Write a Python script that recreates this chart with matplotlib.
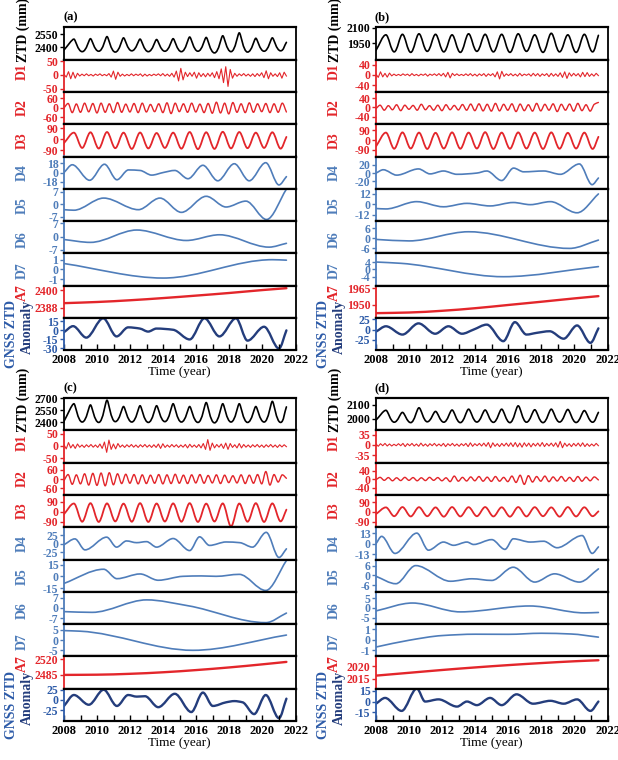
import numpy as np
import matplotlib.pyplot as plt
from matplotlib.path import Path
from matplotlib.patches import PathPatch
from matplotlib.ticker import MultipleLocator

plt.rcParams['font.family'] = ['Liberation Serif', 'DejaVu Serif']
plt.rcParams['font.weight'] = 'bold'
plt.rcParams['axes.unicode_minus'] = False

# ---------------- data ----------------
# times of the annual extrema (start, peak, trough, ..., end)
t_annual = [2008.0, 2008.6, 2009.1, 2009.6, 2010.1, 2010.6, 2011.1, 2011.6, 2012.1,
            2012.6, 2013.1, 2013.6, 2014.1, 2014.6, 2015.1, 2015.6, 2016.1, 2016.6,
            2017.1, 2017.6, 2018.1, 2018.6, 2019.1, 2019.6, 2020.1, 2020.6, 2021.1, 2021.45]
t_a7 = [2008, 2010, 2012, 2014, 2016, 2018, 2020, 2021.45]

# ---- panel (a)
ztd_a = [2365, 2495, 2345, 2500, 2350, 2525, 2340, 2510, 2355, 2495, 2345, 2490, 2350, 2500,
         2345, 2520, 2350, 2515, 2330, 2535, 2345, 2570, 2340, 2505, 2350, 2510, 2355, 2456]
d1_a = [2, -8, 12, -14, 10, -12, 6, -4, 3, -3, 4, -3, 2, -4, 3, -2, 4, -3, 2, -3,
        5, -8, 14, -16, 10, -5, 3, -4, 2, -3, 4, -3, 3, -2, 4, -5, 3, -4, 2, -3,
        3, -2, 4, -3, 5, -4, 3, -5, 6, -8, 14, -22, 24, -18, 10, -6, 8, -5, 10, -12,
        8, -6, 5, -7, 6, -5, 8, -10, 12, -14, 22, -28, 30, -42, 20, -12, 6, -5, 4, -3,
        5, -4, 3, -5, 4, -6, 5, -4, 8, -10, 15, -14, 8, -5, 4, -6, 8, -12, 10, -4]
d2_a = [0, 28, -30, 25, -28, 30, -25, 28, -32, 30, -28, 26, -30, 34, -28, 24, -26, 28, -30, 30,
        -26, 22, -24, 26, -30, 32, -36, 30, -24, 26, -28, 30, -26, 24, -30, 28, -34, 36, -32, 30,
        -38, 34, -28, 26, -30, 32, -28, 26, -24, 28, -30, 26, -28, 30, -26]
d3_a = [-30, 55, -70, 58, -75, 60, -72, 55, -78, 56, -74, 52, -70, 55, -76, 60, -80, 58,
        -78, 62, -74, 60, -72, 55, -70, 58, -76, 20]
d4_t_a = [2008.0, 2008.5, 2009.55, 2010.45, 2011.2, 2011.9, 2012.6, 2013.3, 2014.0, 2014.7,
          2015.5, 2016.4, 2017.3, 2018.3, 2019.2, 2020.2, 2021.0, 2021.45]
d4_a = [0, 15, -15, 16, -14, 5, 4, -5, 0, 4, -12, 14, -16, 17, -16, 19, -24, -8]
d5_t_a = [2008.0, 2008.6, 2010.4, 2012.5, 2013.8, 2015.1, 2016.6, 2017.8, 2019.0, 2020.25, 2021.45]
d5_a = [-3, -3.3, 3.5, -3, 3.5, -4.5, 4.5, -1.5, 1.8, -8.5, 8.5]
d6_t_a = [2008.0, 2009.6, 2012.4, 2015.4, 2017.4, 2020.4, 2021.45]
d6_a = [-1.5, -3, 3.5, -2, 1, -5.5, -3.5]
d7_t_a = [2008.0, 2014.0, 2020.6, 2021.45]
d7_a = [0.6, -0.9, 1.0, 0.95]
a7_a = [2391.0, 2391.8, 2393.0, 2394.5, 2396.2, 2398.0, 2400.0, 2401.3]
anom_t_a = [2008.0, 2008.55, 2009.35, 2010.37, 2011.18, 2011.88, 2012.59, 2013.09, 2013.59,
            2014.6, 2015.6, 2016.5, 2017.4, 2018.4, 2019.1, 2020.1, 2021.0, 2021.45]
anom_a = [-3, 7, -12, 20, -10, 5, 3, -2, 3, 1, -15, 20, -10, 20, -17, 6, -30, 0]

# ---- panel (b)
ztd_b = [1880, 2030, 1865, 2035, 1860, 2040, 1870, 2035, 1865, 2030, 1860, 2040, 1870, 2035,
         1865, 2035, 1860, 2040, 1870, 2030, 1860, 2045, 1865, 2030, 1860, 2035, 1865, 2025]
d1_b = [3, -10, 12, -8, 6, -9, 7, -4, 3, -3, 2, -3, 4, -2, 3, -4, 5, -3, 2, -4,
        3, -2, 4, -5, 3, -2, 4, -3, 5, -4, 6, -8, 10, -12, 6, -3, 4, -3, 2, -3,
        4, -3, 5, -4, 3, -5, 4, -3, 5, -6, 4, -3, 5, -8, 12, -16, 14, -6, 4, -3,
        5, -4, 3, -5, 6, -4, 3, -2, 4, -5, 6, -4, 5, -6, 4, -3, 5, -7, 6, -5,
        4, -6, 8, -10, 12, -14, 8, -5, 6, -4, 5, -8, 10, -7, 9, -6, 4, -5, 6, -3]
d2_b = [-5, 10, -12, 8, -10, 12, -14, 10, -8, 9, -12, 14, -10, 8, -12, 10, -14, 12, -10, 9,
        -11, 13, -12, 15, -14, 16, -15, 14, -16, 18, -15, 14, -12, 16, -18, 15, -14, 12, -16, 18,
        -15, 14, -12, 16, -18, 14, -12, 15, -16, 18, -14, 12, -16, 14, 22]
d3_b = [-60, 70, -82, 72, -80, 70, -84, 68, -80, 72, -82, 70, -80, 74, -84, 70, -82, 72,
        -80, 70, -84, 72, -82, 68, -80, 70, -84, 30]
d4_t_b = [2008.0, 2008.44, 2009.25, 2010.57, 2011.27, 2012.08, 2012.89, 2014.1, 2014.7, 2015.6,
          2016.32, 2016.93, 2018.14, 2019.15, 2020.3, 2021.07, 2021.45]
d4_b = [0, 8, -5, 10, -2, 5, -3, 0, 5, -18, 12, 3, 5, -3, 22, -28, -12]
d5_t_b = [2008.0, 2008.6, 2010.46, 2012.08, 2013.5, 2014.9, 2016.3, 2017.33, 2018.55, 2020.16, 2021.45]
d5_b = [-5, -5.5, 3, -3, 1, -2, 2, -0.5, 3, -10, 12]
d6_t_b = [2008.0, 2010.0, 2013.6, 2019.7, 2021.45]
d6_b = [-0.6, -1.5, 4, -6, -1]
d7_t_b = [2008.0, 2009.5, 2015.7, 2021.45]
d7_b = [4.0, 3.3, -4.0, 1.5]
a7_b = [1942.0, 1942.6, 1944.2, 1946.6, 1949.6, 1952.6, 1955.7, 1957.8]
anom_t_b = [2008.0, 2008.6, 2009.6, 2010.57, 2011.58, 2012.38, 2013.2, 2013.9, 2014.7, 2015.7,
            2016.4, 2017.1, 2017.7, 2018.5, 2019.35, 2020.16, 2020.97, 2021.45]
anom_b = [-5, 8, -12, 15, -10, 8, -10, 0, 12, -28, 18, -12, -8, -4, -22, 10, -32, 3]

# ---- panel (c)
ztd_c = [2410, 2630, 2400, 2615, 2395, 2675, 2405, 2595, 2400, 2605, 2395, 2605, 2405, 2630,
         2400, 2595, 2395, 2645, 2390, 2630, 2400, 2630, 2395, 2595, 2400, 2660, 2395, 2590]
d1_c = [5, -12, 14, -8, 6, -10, 8, -5, 4, -6, 5, -4, 6, -5, 4, -6, 8, -10, 16, -26,
        24, -14, 8, -12, 10, -5, 4, -6, 5, -4, 6, -5, 4, -6, 5, -4, 6, -5, 4, -6,
        5, -6, 8, -10, 9, -6, 4, -5, 6, -4, 5, -6, 4, -5, 6, -8, 7, -5, 4, -6,
        6, -8, 10, -14, 26, -18, 12, -8, 6, -5, 8, -10, 12, -14, 10, -6, 5, -8, 10, -8,
        6, -5, 4, -6, 5, -4, 6, -5, 4, -6, 5, -4, 6, -5, 4, -6, 5, -4, 5, -3]
d2_c = [-10, 30, -35, 28, -32, 35, -40, 38, -42, 40, -45, 42, -38, 35, -30, 32, -28, 30, -32, 28,
        -30, 26, -28, 30, -32, 28, -30, 32, -28, 26, -30, 28, -26, 30, -28, 24, -26, 28, -30, 26,
        -24, 22, -26, 28, -30, 26, -28, 30, -32, 50, -40, 30, -20, 28, 5]
d3_c = [-20, 75, -88, 78, -90, 76, -85, 74, -88, 78, -90, 75, -86, 76, -88, 78, -90, 74,
        -86, 76, -130, 75, -88, 78, -90, 76, -85, 20]
d4_t_c = [2008.0, 2008.66, 2009.27, 2010.58, 2011.18, 2011.78, 2012.39, 2012.99, 2013.6, 2014.6,
          2015.6, 2016.2, 2016.8, 2017.8, 2018.63, 2019.4, 2020.23, 2021.0, 2021.45]
d4_c = [-3, 14, -18, 19, -10, 8, 3, 6, -10, 15, -20, 20, -5, 5, 3, -10, 33, -40, -15]
d5_t_c = [2008.0, 2010.4, 2011.2, 2012.6, 2013.7, 2015.2, 2016.3, 2017.2, 2018.6, 2020.2, 2021.45]
d5_c = [-9, 9, -3, 3, -5, 0, 0.5, 0, 2.5, -18, 20]
d6_t_c = [2008.0, 2009.7, 2013.0, 2015.5, 2020.2, 2021.45]
d6_c = [-2.5, -3, 5.5, 1.5, -10, -3.5]
d7_t_c = [2008.0, 2009.0, 2015.8, 2021.45]
d7_c = [4.7, 4.4, -5, 2.5]
a7_c = [2485, 2485.5, 2487.5, 2491, 2496, 2502, 2509, 2514.5]
anom_t_c = [2008.0, 2008.6, 2009.5, 2010.4, 2011.2, 2011.88, 2012.4, 2012.9, 2013.7, 2014.7,
            2015.7, 2016.4, 2017.0, 2017.8, 2018.3, 2018.8, 2019.5, 2020.2, 2021.0, 2021.45]
anom_c = [-15, 12, -12, 25, -15, 12, 8, 9, -18, 15, -30, 18, -15, -6, -3, -6, -35, 12, -45, 3]

# ---- panel (d)
ztd_d = [1990, 2060, 1975, 2045, 1972, 2078, 1978, 2052, 1975, 2062, 1972, 2068, 1976, 2062,
         1974, 2068, 1972, 2092, 1975, 2064, 1972, 2068, 1976, 2066, 1973, 2058, 1975, 2045]
d1_d = [3, -5, 4, -3, 5, -4, 3, -4, 2, -3, 4, -3, 5, -6, 4, -3, 5, -4, 3, -5,
        6, -4, 3, -5, 4, -3, 5, -4, 3, -4, 5, -6, 4, -3, 5, -4, 3, -5, 4, -3,
        5, -6, 7, -5, 4, -3, 5, -4, 6, -5, 8, -10, 7, -5, 4, -6, 5, -4, 6, -5,
        7, -6, 8, -7, 6, -8, 7, -5, 6, -7, 5, -4, 6, -5, 8, -6, 5, -4, 6, -5,
        7, -8, 12, -10, 6, -5, 4, -6, 5, -4, 6, -5, 7, -6, 4, -5, 3, -4, 5, -3]
d2_d = [-3, 8, -6, 7, -8, 6, -7, 8, -6, 7, -8, 6, -7, 8, -6, 7, -8, 6, -12, 14,
        -10, 8, -9, 10, -8, 12, -10, 9, -11, 12, -10, 8, -12, 14, -16, 18, -25, 16, -14, 12,
        -10, 14, -12, 10, -9, 12, -10, 8, -11, 12, -10, 9, -8, 10, -4]
d3_d = [-20, 42, -40, 45, -42, 44, -40, 42, -44, 45, -42, 44, -40, 45, -42, 43, -44, 45,
        -42, 44, -40, 42, -44, 45, -42, 43, -40, 5]
d4_t_d = [2008.0, 2008.34, 2009.15, 2010.47, 2011.17, 2012.08, 2012.69, 2013.5, 2013.9, 2015.0,
          2015.8, 2016.3, 2017.33, 2018.14, 2018.95, 2020.47, 2021.07, 2021.45]
d4_d = [0, 9, -12, 13, -8, 2, -2, 2, -1, 5, -7, 6, 2, 3, -5, 10, -12, -4]
d5_t_d = [2008.0, 2009.2, 2010.4, 2012.5, 2013.8, 2015.0, 2016.3, 2017.6, 2018.8, 2020.3, 2021.45]
d5_d = [-0.5, -5, 6, -3.5, -2, -3, 5, -4, 1, -4, 4]
d6_t_d = [2008.0, 2010.2, 2013.1, 2017.3, 2020.6, 2021.45]
d6_d = [-1.5, 2.5, -2, 1, -2.5, -2.3]
d7_t_d = [2008.0, 2010.0, 2012.0, 2014.0, 2016.0, 2018.0, 2019.8, 2021.45]
d7_d = [-0.7, -0.05, 0.4, 0.53, 0.52, 0.62, 0.55, 0.25]
a7_d = [2016.3, 2017.4, 2018.5, 2019.5, 2020.4, 2021.2, 2021.9, 2022.3]
anom_t_d = [2008.0, 2008.55, 2009.55, 2010.47, 2010.97, 2011.78, 2012.9, 2013.5, 2014.1, 2014.9,
            2015.6, 2016.5, 2017.5, 2018.55, 2019.35, 2020.16, 2020.97, 2021.45]
anom_d = [-3, 5, -13, 18, 0, 3, -7, 0, -5, 5, -5, 10, -3, 1, -3, 3, -13, 0]

# axis ranges / ticks per row: ZTD, D1..D7, A7, anomaly
ylims_a = [(2250, 2636), (-62, 56), (-103, 101), (-140, 124), (-31.5, 31), (-9.4, 8.7),
           (-8.8, 8.2), (-1.69, 1.65), (2380.8, 2403), (-33, 20.5)]
yticks_a = [[2400, 2550], [-50, 0, 50], [-60, 0, 60], [-90, 0, 90], [-18, 0, 18], [-7, 0, 7],
            [-7, 0, 7], [-1, 0, 1], [2388, 2400], [-30, -15, 0, 15]]
ylims_b = [(1790, 2103), (-67, 60), (-73, 68), (-155, 149), (-38, 40), (-19.7, 18),
           (-9, 10.4), (-8.9, 8.7), (1937.5, 1967.5), (-50, 28)]
yticks_b = [[1950, 2100], [-40, 0, 40], [-40, 0, 40], [-90, 0, 90], [-20, 0, 20], [-12, 0, 12],
            [-6, 0, 6], [-4, 0, 4], [1950, 1965], [-25, 0, 25]]
ylims_c = [(2296, 2702), (-68, 64), (-105, 109), (-137, 152), (-46, 48), (-19.7, 21.4),
           (-11, 11), (-8, 7.9), (2453.7, 2527), (-52, 27.5)]
yticks_c = [[2400, 2550, 2700], [-50, 0, 50], [-60, 0, 60], [-90, 0, 90], [-25, 0, 25],
            [-15, 0, 15], [-7, 0, 7], [-5, 0, 5], [2485, 2520], [-25, 0, 25]]
ylims_d = [(1917, 2148), (-61, 50), (-74, 77), (-142, 158), (-19.5, 20.3), (-9.9, 9.7),
           (-8.2, 8.2), (-1.6, 1.5), (2011.2, 2023.8), (-27, 17.8)]
yticks_d = [[2000, 2100], [-35, 0, 35], [-40, 0, 40], [-90, 0, 90], [-13, 0, 13], [-6, 0, 6],
            [-5, 0, 5], [-1, 0, 1], [2015, 2020], [-15, 0, 15]]

# ---------------- style ----------------
RED = '#e3262b'
BLUE = '#4f7dba'
NAVY = '#243d7c'
GBLUE = '#2d5ba8'
row_labels = ['ZTD (mm)', 'D1', 'D2', 'D3', 'D4', 'D5', 'D6', 'D7', 'A7', '']
label_y = [0.93, 0.62, 0.5, 0.5, 0.5, 0.47, 0.42, 0.47, 0.78, 0.5]
axis_colors = ['black', RED, RED, RED, BLUE, BLUE, BLUE, BLUE, RED, GBLUE]
line_colors = ['black', RED, RED, RED, BLUE, BLUE, BLUE, BLUE, RED, NAVY]
line_widths = [1.2, 0.8, 1.0, 1.3, 1.2, 1.2, 1.2, 1.2, 1.7, 1.7]

W, H = 618, 760
ROW_H = 32.3
COL_W = 231.5


def smooth_line(ax, t, v, color, lw, f_max=1.0, f_min=1.0):
    # monotone cubic through the read points, drawn as bezier segments;
    # f_max / f_min shorten or lengthen the handles at peaks / troughs
    t = np.asarray(t, float)
    v = np.asarray(v, float)
    h = np.diff(t)
    d = np.diff(v) / h
    m = np.zeros_like(v)
    f = np.ones_like(v)
    for k in range(1, len(v) - 1):
        if d[k - 1] * d[k] > 0:
            w1 = 2 * h[k] + h[k - 1]
            w2 = h[k] + 2 * h[k - 1]
            m[k] = (w1 + w2) / (w1 / d[k - 1] + w2 / d[k])
        elif d[k - 1] > 0:
            f[k] = f_max
        else:
            f[k] = f_min
    m[0] = d[0]
    m[-1] = d[-1]
    verts = [(t[0], v[0])]
    for k in range(len(h)):
        a = f[k] * h[k] / 3
        b = f[k + 1] * h[k] / 3
        verts += [(t[k] + a, v[k] + m[k] * a),
                  (t[k + 1] - b, v[k + 1] - m[k + 1] * b),
                  (t[k + 1], v[k + 1])]
    codes = [Path.MOVETO] + [Path.CURVE4] * (3 * len(h))
    ax.add_patch(PathPatch(Path(verts, codes), fill=False, edgecolor=color, lw=lw,
                           joinstyle='round', capstyle='round'))


fig = plt.figure(figsize=(6.18, 7.6), dpi=100)


def draw_panel(letter, x0, ytop, series, ylims, yticks, peak_f):
    for i in range(10):
        ax = fig.add_axes([x0 / W, 1 - (ytop + (i + 1) * ROW_H) / H, COL_W / W, ROW_H / H])
        t, v = series[i]
        if i == 1:
            ax.plot(np.linspace(2008.0, 2021.45, len(v)), v, color=line_colors[i],
                    lw=line_widths[i])
        elif i == 0:
            smooth_line(ax, t, v, line_colors[i], line_widths[i], f_max=peak_f,
                        f_min=2.2 - peak_f)
        else:
            smooth_line(ax, t, v, line_colors[i], line_widths[i])
        ax.set_xlim(2008, 2022)
        ax.set_ylim(*ylims[i])
        ax.set_yticks(yticks[i])
        ax.tick_params(axis='y', direction='out', length=3, width=1,
                       colors=axis_colors[i], labelsize=8.5, pad=1)
        for s in ['top', 'bottom']:
            ax.spines[s].set_linewidth(1.6)
        ax.spines['right'].set_linewidth(1.3)
        ax.spines['left'].set_linewidth(1.3)
        ax.spines['left'].set_color(axis_colors[i])
        if i < 9:
            ax.tick_params(axis='x', bottom=False, labelbottom=False)
            ax.text(-0.178, label_y[i], row_labels[i], transform=ax.transAxes, rotation=90,
                    ha='center', va='center', color=axis_colors[i] if i else 'black',
                    fontsize=10)
        else:
            ax.xaxis.set_major_locator(MultipleLocator(2))
            ax.xaxis.set_minor_locator(MultipleLocator(1))
            ax.tick_params(axis='x', which='both', direction='in', length=4, width=1,
                           labelsize=9, pad=3)
            ax.set_xlabel('Time (year)', fontsize=9.5, labelpad=0)
            ax.text(-0.225, 0.5, 'GNSS ZTD', transform=ax.transAxes, rotation=90,
                    ha='center', va='center', color=GBLUE, fontsize=10)
            ax.text(-0.16, 0.72, 'Anomaly', transform=ax.transAxes, rotation=90,
                    ha='center', va='center', color=NAVY, fontsize=10)
    fig.text((x0 - 1) / W, 1 - (ytop - 10) / H, '(' + letter + ')', ha='left',
             va='center', fontsize=9)


panels = [
    ('a', 64, 27.3, [(t_annual, ztd_a), (None, d1_a), (None, d2_a), (t_annual, d3_a),
                     (d4_t_a, d4_a), (d5_t_a, d5_a), (d6_t_a, d6_a), (d7_t_a, d7_a),
                     (t_a7, a7_a), (anom_t_a, anom_a)], ylims_a, yticks_a, 0.6),
    ('b', 376, 27.3, [(t_annual, ztd_b), (None, d1_b), (None, d2_b), (t_annual, d3_b),
                      (d4_t_b, d4_b), (d5_t_b, d5_b), (d6_t_b, d6_b), (d7_t_b, d7_b),
                      (t_a7, a7_b), (anom_t_b, anom_b)], ylims_b, yticks_b, 1.0),
    ('c', 64, 398, [(t_annual, ztd_c), (None, d1_c), (None, d2_c), (t_annual, d3_c),
                    (d4_t_c, d4_c), (d5_t_c, d5_c), (d6_t_c, d6_c), (d7_t_c, d7_c),
                    (t_a7, a7_c), (anom_t_c, anom_c)], ylims_c, yticks_c, 0.6),
    ('d', 376, 398, [(t_annual, ztd_d), (None, d1_d), (None, d2_d), (t_annual, d3_d),
                     (d4_t_d, d4_d), (d5_t_d, d5_d), (d6_t_d, d6_d), (d7_t_d, d7_d),
                     (t_a7, a7_d), (anom_t_d, anom_d)], ylims_d, yticks_d, 0.8),
]

for letter, x0, ytop, series, ylims, yticks, peak_f in panels:
    # D2 uses evenly spaced semi-annual extrema
    series[2] = (np.linspace(2008.0, 2021.45, len(series[2][1])), series[2][1])
    draw_panel(letter, x0, ytop, series, ylims, yticks, peak_f)

fig.savefig('out.png', dpi=100)
